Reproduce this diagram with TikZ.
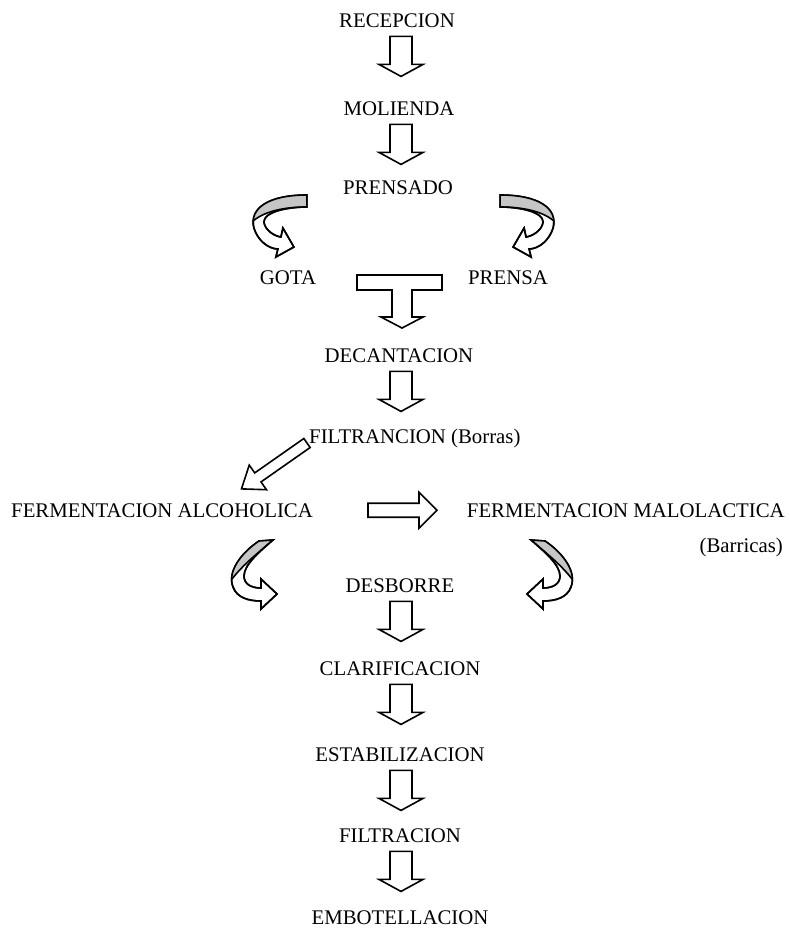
\documentclass[tikz,border=0pt]{standalone}
\usepackage{fontspec}
\setmainfont{Liberation Serif}
\usetikzlibrary{calc}

\tikzset{
  etapa/.style={inner sep=0pt, anchor=base, font=\fontsize{20.8}{24}\selectfont},
  contorno/.style={draw=black, line width=1.6pt, line join=miter, fill=white},
  pics/flecha/.style n args={4}{code={
    \path[contorno] (0,-#2) -- (#1-#4,-#2) -- (#1-#4,-#3) -- (#1,0) -- (#1-#4,#3) -- (#1-#4,#2) -- (0,#2) -- cycle;
  }},
  pics/union/.style={code={
    \path[contorno] (-45,-53) -- (40,-53) -- (40,-38) -- (10,-38) -- (10,-11) -- (21,-11) -- (0,0)
      -- (-21,-11) -- (-10,-11) -- (-10,-38) -- (-45,-38) -- cycle;
  }},
  pics/giro/.style={code={
    \def\giropath{(0,0) .. controls (-38,0) and (-58,13) .. (-53,33) .. controls (-49,46) and (-38,54) .. (-29,54)
      -- (-31,62) -- (-13,52) -- (-24,33) -- (-26,42) .. controls (-33,41) and (-42,35) .. (-43,27)
      .. controls (-43,17) and (-20,12) .. (0,12) -- cycle}
    \path[contorno] \giropath;
    \begin{scope}
      \clip \giropath;
      \fill[gray!45] (0,12) .. controls (-22,12) and (-44,16) .. (-56,28) -- (-70,28) -- (-70,-5) -- (5,-5) -- (5,12) -- cycle;
      \draw[line width=1.6pt] (0,12) .. controls (-22,12) and (-44,16) .. (-56,28);
    \end{scope}
    \draw[line width=1.6pt, line join=miter] \giropath;
  }},
  pics/giroB/.style={code={
    \def\giropath{(0,0) .. controls (-18,12) and (-32,31) .. (-26,46) .. controls (-22,57) and (-10,60) .. (2,60)
      -- (2,68) -- (18,53) -- (2,38) -- (2,47) .. controls (-8,47) and (-15,43) .. (-15,35)
      .. controls (-15,24) and (0,11) .. (14,-1) -- cycle}
    \path[contorno] \giropath;
    \begin{scope}
      \clip \giropath;
      \fill[gray!45] (14,-1) .. controls (-1,12) and (-18,25) .. (-30,42) -- (-40,42) -- (-40,-10) -- (20,-10) -- cycle;
      \draw[line width=1.6pt] (14,-1) .. controls (-1,12) and (-18,25) .. (-30,42);
    \end{scope}
    \draw[line width=1.6pt, line join=miter] \giropath;
  }},
}

\begin{document}
\begin{tikzpicture}[x=1pt, y=-1pt]
\useasboundingbox (0,0) rectangle (790,930);
\coordinate (eje) at (401,0);

\node[etapa] (recep) at (397,27) {RECEPCION};
\node[etapa] (moli) at (399,115) {MOLIENDA};
\node[etapa] (prens) at (398,194) {PRENSADO};
\node[etapa] (gota) at (288,284) {GOTA};
\node[etapa] (prensa) at (508,284) {PRENSA};
\node[etapa] (decant) at (399,362) {DECANTACION};
\node[etapa, anchor=base west] (filt) at (309,443) {FILTRANCION (Borras)};
\node[etapa, anchor=base west] (falc) at (11,517) {FERMENTACION ALCOHOLICA};
\node[etapa, anchor=base east] (fmal) at (785,517) {FERMENTACION MALOLACTICA};
\node[etapa, anchor=base east] (barr) at (783,552) {(Barricas)};
\node[etapa] (desb) at (400,592) {DESBORRE};
\node[etapa] (clar) at (400,675) {CLARIFICACION};
\node[etapa] (estab) at (400,761) {ESTABILIZACION};
\node[etapa] (filtr) at (400,842) {FILTRACION};
\node[etapa] (embot) at (400,924) {EMBOTELLACION};

\foreach \a in {recep,moli,decant,desb,clar,estab,filtr}
  \pic[rotate=-90] at ([yshift=-9pt]\a.south -| eje) {flecha={40}{11}{22}{12}};

\pic at ([shift={(-36pt,-1pt)}]prens.base west) {giro};
\pic[xscale=-1] at ([shift={(47pt,-1pt)}]prens.base east) {giro};
\pic at ([shift={(3pt,20pt)}]decant.north) {union};

\pic[rotate=-145] at ([xshift=-2pt]filt.base west) {flecha={80}{5.5}{15}{20}};
\pic at ([xshift=357pt]falc.base west |- falc.east) {flecha={69}{7}{18}{18}};

\pic at ([shift={(248pt,-24pt)}]falc.base west) {giroB};
\pic[xscale=-1] at ([shift={(-240pt,-24pt)}]fmal.base east) {giroB};
\end{tikzpicture}
\end{document}
